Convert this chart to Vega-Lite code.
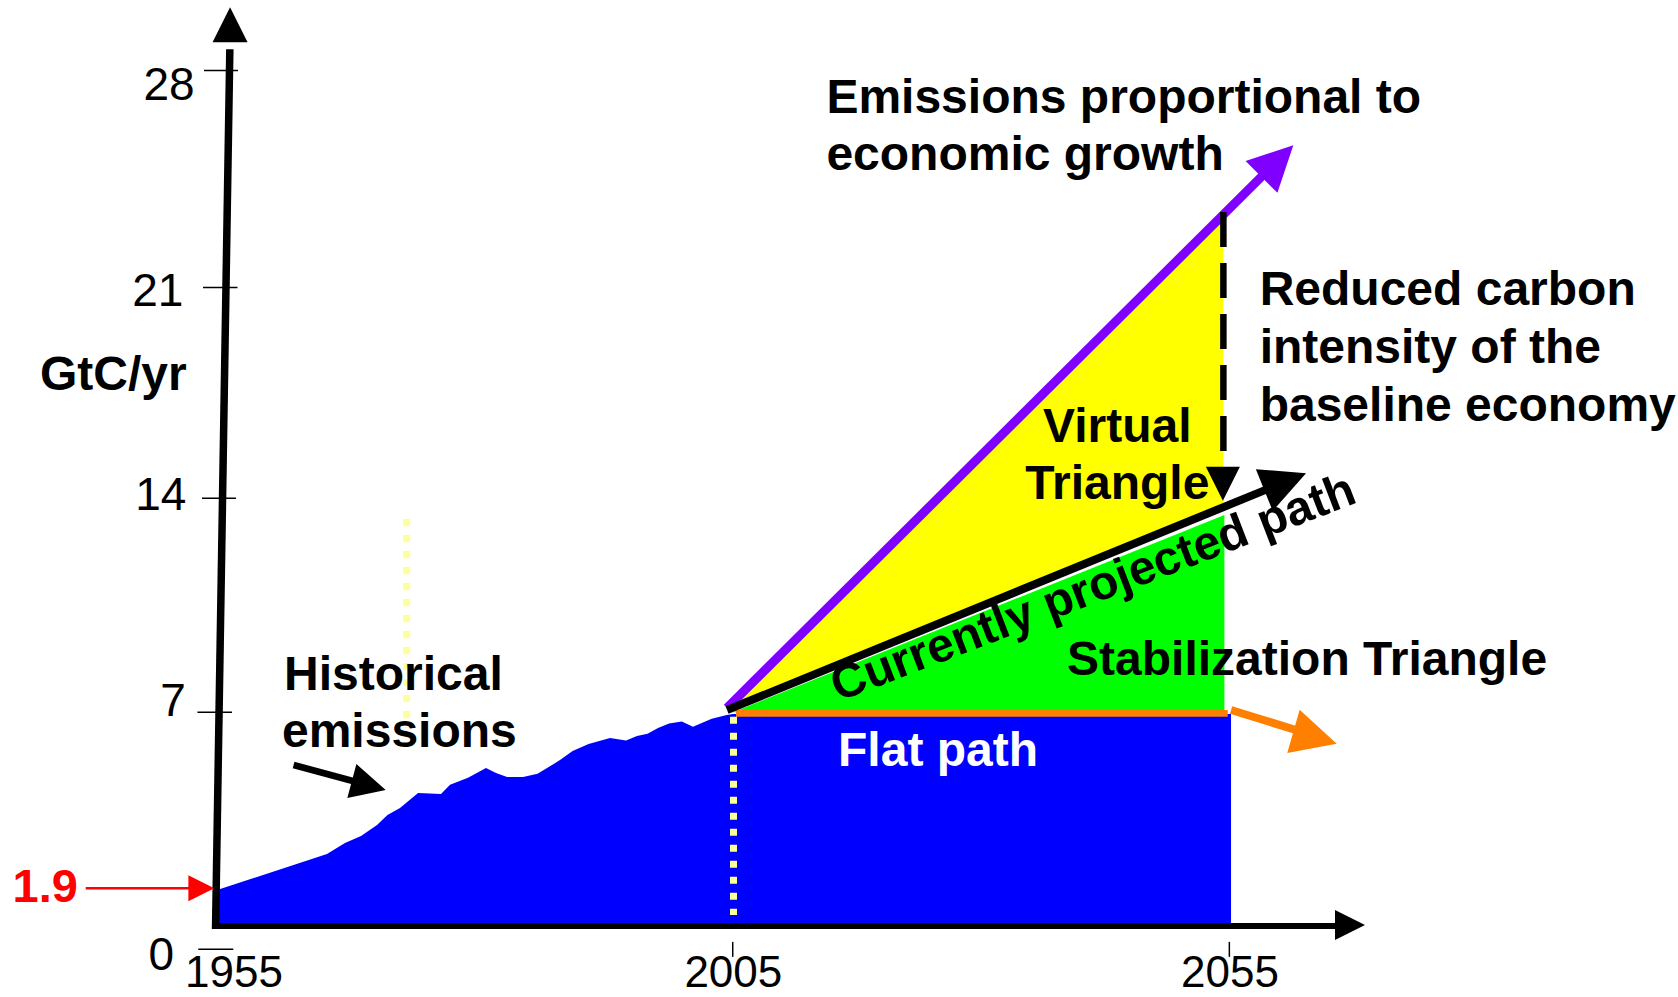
{
  "$schema": "https://vega.github.io/schema/vega-lite/v6.json",
  "width": 1678,
  "height": 997,
  "autosize": {"type": "none"},
  "padding": 0,
  "background": "#ffffff",
  "config": {"view": {"stroke": null}, "text": {"font": "Liberation Sans"}},
  "encoding": {
    "x": {"field": "x", "type": "quantitative", "scale": {"domain": [1931.23, 2100.17], "nice": false, "zero": false}, "axis": null},
    "y": {"field": "y", "type": "quantitative", "scale": {"domain": [-2.324, 30.311], "nice": false, "zero": false}, "axis": null}
  },
  "layer": [
    {
      "data": {"values": [
        {"x": 1952.93, "y": 1.16}, {"x": 1964.15, "y": 2.36}, {"x": 1965.96, "y": 2.72}, {"x": 1967.58, "y": 2.95},
        {"x": 1969.19, "y": 3.31}, {"x": 1970.24, "y": 3.63}, {"x": 1971.5, "y": 3.86}, {"x": 1973.32, "y": 4.35},
        {"x": 1975.63, "y": 4.32}, {"x": 1976.54, "y": 4.62}, {"x": 1978.35, "y": 4.85}, {"x": 1980.16, "y": 5.17},
        {"x": 1981.17, "y": 5.01}, {"x": 1982.28, "y": 4.88}, {"x": 1983.89, "y": 4.88}, {"x": 1985.35, "y": 4.98},
        {"x": 1987.61, "y": 5.43}, {"x": 1988.88, "y": 5.73}, {"x": 1990.49, "y": 5.96}, {"x": 1992.65, "y": 6.15},
        {"x": 1994.26, "y": 6.07}, {"x": 1995.36, "y": 6.22}, {"x": 1996.42, "y": 6.29}, {"x": 1997.48, "y": 6.48},
        {"x": 1998.59, "y": 6.63}, {"x": 1999.87, "y": 6.69}, {"x": 2001.0, "y": 6.52}, {"x": 2002.89, "y": 6.78},
        {"x": 2004.4, "y": 6.91}, {"x": 2005.03, "y": 6.94}, {"x": 2055.17, "y": 6.94}
      ]},
      "mark": {"type": "area", "color": "#0000FF", "opacity": 1},
      "encoding": {"y2": {"datum": 0}}
    },
    {
      "data": {"values": [{"x": 2004.45, "y": 7.07, "y2": 7.07}, {"x": 2054.4, "y": 23.3, "y2": 13.78}]},
      "mark": {"type": "area", "color": "#FFFF00", "opacity": 1},
      "encoding": {"y2": {"field": "y2"}}
    },
    {
      "data": {"values": [{"x": 2005.03, "y": 7.0, "y2": 7.0}, {"x": 2054.5, "y": 13.45, "y2": 6.95}]},
      "mark": {"type": "area", "color": "#00FF00", "opacity": 1},
      "encoding": {"y2": {"field": "y2"}}
    },
    {
      "data": {"values": [{"x": 2005.33, "y": 6.96, "x2": 2054.84, "y2": 6.96}]},
      "mark": {"type": "rule", "color": "#FF8000", "strokeWidth": 6.7},
      "encoding": {"x2": {"field": "x2"}, "y2": {"field": "y2"}}
    },
    {
      "data": {"values": [{"x": 1972.17, "y": 13.32, "x2": 1972.17, "y2": 6.48}, {"x": 2005.08, "y": 6.85, "x2": 2005.08, "y2": 0.36}]},
      "mark": {"type": "rule", "color": "#FFFF99", "strokeWidth": 7, "strokeDash": [7, 9]},
      "encoding": {"x2": {"field": "x2"}, "y2": {"field": "y2"}}
    },
    {
      "data": {"values": [{"x": 2004.43, "y": 7.14, "x2": 2060.38, "y2": 25.22}]},
      "mark": {"type": "rule", "color": "#7F00FF", "strokeWidth": 9},
      "encoding": {"x2": {"field": "x2"}, "y2": {"field": "y2"}}
    },
    {
      "data": {"values": [{"x": 2061.44, "y": 25.56}]},
      "mark": {"type": "point", "shape": "M0,0L-2,-1L-2,1Z", "filled": true, "opacity": 1, "strokeWidth": 0, "color": "#7F00FF"},
      "encoding": {"size": {"value": 2025}, "angle": {"value": -45}}
    },
    {
      "data": {"values": [{"x": 2004.43, "y": 7.07, "x2": 2061.32, "y2": 14.63}]},
      "mark": {"type": "rule", "color": "#000000", "strokeWidth": 8},
      "encoding": {"x2": {"field": "x2"}, "y2": {"field": "y2"}}
    },
    {
      "data": {"values": [{"x": 2062.72, "y": 14.82}]},
      "mark": {"type": "point", "shape": "M0,0L-2,-1L-2,1Z", "filled": true, "opacity": 1, "strokeWidth": 0, "color": "#000000"},
      "encoding": {"size": {"value": 2025}, "angle": {"value": -22}}
    },
    {
      "data": {"values": [{"x": 2054.4, "y": 23.37, "x2": 2054.4, "y2": 14.9}]},
      "mark": {"type": "rule", "color": "#000000", "strokeWidth": 6.5, "strokeDash": [35, 16]},
      "encoding": {"x2": {"field": "x2"}, "y2": {"field": "y2"}}
    },
    {
      "data": {"values": [{"x": 2054.35, "y": 13.92}]},
      "mark": {"type": "point", "shape": "M0,0L-2,-1L-2,1Z", "filled": true, "opacity": 1, "strokeWidth": 0, "color": "#000000"},
      "encoding": {"size": {"value": 1156}, "angle": {"value": 90}}
    },
    {
      "data": {"values": [{"x": 2055.17, "y": 7.07, "x2": 2064.36, "y2": 6.147}]},
      "mark": {"type": "rule", "color": "#FF8000", "strokeWidth": 8},
      "encoding": {"x2": {"field": "x2"}, "y2": {"field": "y2"}}
    },
    {
      "data": {"values": [{"x": 2065.81, "y": 5.965}]},
      "mark": {"type": "point", "shape": "M0,0L-2,-1L-2,1Z", "filled": true, "opacity": 1, "strokeWidth": 0, "color": "#FF8000"},
      "encoding": {"size": {"value": 2025}, "angle": {"value": 16}}
    },
    {
      "data": {"values": [{"x": 1952.93, "y": -0.1, "x2": 1954.37, "y2": 28.7}]},
      "mark": {"type": "rule", "color": "#000000", "strokeWidth": 7.5},
      "encoding": {"x2": {"field": "x2"}, "y2": {"field": "y2"}}
    },
    {
      "data": {"values": [{"x": 1952.6, "y": 0, "x2": 2066.5, "y2": 0}]},
      "mark": {"type": "rule", "color": "#000000", "strokeWidth": 6},
      "encoding": {"x2": {"field": "x2"}, "y2": {"field": "y2"}}
    },
    {
      "data": {"values": [{"x": 1954.39, "y": 30.07}]},
      "mark": {"type": "point", "shape": "M0,0L-2,-1L-2,1Z", "filled": true, "opacity": 1, "strokeWidth": 0, "color": "#000000"},
      "encoding": {"size": {"value": 1225}, "angle": {"value": -90}}
    },
    {
      "data": {"values": [{"x": 2068.66, "y": 0.03}]},
      "mark": {"type": "point", "shape": "M0,0L-2,-1L-2,1Z", "filled": true, "opacity": 1, "strokeWidth": 0, "color": "#000000"},
      "encoding": {"size": {"value": 900}, "angle": {"value": 0}}
    },
    {
      "data": {"values": [
        {"x": 1951.77, "x2": 1955.19, "y": 28, "y2": 28},
        {"x": 1951.67, "x2": 1955.14, "y": 20.9, "y2": 20.9},
        {"x": 1951.57, "x2": 1954.99, "y": 14, "y2": 14},
        {"x": 1951.11, "x2": 1954.59, "y": 7, "y2": 7},
        {"x": 1951.19, "x2": 1954.72, "y": -0.76, "y2": -0.76},
        {"x": 2005.0, "x2": 2005.0, "y": -0.52, "y2": -1.01},
        {"x": 2055.0, "x2": 2055.0, "y": -0.52, "y2": -1.01}
      ]},
      "mark": {"type": "rule", "color": "#000000", "strokeWidth": 1.5},
      "encoding": {"x2": {"field": "x2"}, "y2": {"field": "y2"}}
    },
    {
      "data": {"values": [{"x": 1939.86, "y": 1.234, "x2": 1951.5, "y2": 1.234}]},
      "mark": {"type": "rule", "color": "#FF0000", "strokeWidth": 2.5},
      "encoding": {"x2": {"field": "x2"}, "y2": {"field": "y2"}}
    },
    {
      "data": {"values": [{"x": 1952.81, "y": 1.234}]},
      "mark": {"type": "point", "shape": "M0,0L-2,-1L-2,1Z", "filled": true, "opacity": 1, "strokeWidth": 0, "color": "#FF0000"},
      "encoding": {"size": {"value": 676}, "angle": {"value": 0}}
    },
    {
      "data": {"values": [{"x": 1960.79, "y": 5.27, "x2": 1968.99, "y2": 4.55}]},
      "mark": {"type": "rule", "color": "#000000", "strokeWidth": 6.7},
      "encoding": {"x2": {"field": "x2"}, "y2": {"field": "y2"}}
    },
    {
      "data": {"values": [{"x": 1970.06, "y": 4.45}]},
      "mark": {"type": "point", "shape": "M0,0L-2,-1L-2,1Z", "filled": true, "opacity": 1, "strokeWidth": 0, "color": "#000000"},
      "encoding": {"size": {"value": 1225}, "angle": {"value": 15}}
    },
    {
      "data": {"values": [
        {"x": 2014.43, "y": 26.6, "text": "Emissions proportional to"},
        {"x": 2014.43, "y": 24.74, "text": "economic growth"},
        {"x": 2058.05, "y": 20.33, "text": "Reduced carbon"},
        {"x": 2058.05, "y": 18.44, "text": "intensity of the"},
        {"x": 2058.05, "y": 16.54, "text": "baseline economy"},
        {"x": 1959.82, "y": 7.725, "text": "Historical"},
        {"x": 1959.62, "y": 5.86, "text": "emissions"},
        {"x": 2038.66, "y": 8.216, "text": "Stabilization Triangle"},
        {"x": 1935.26, "y": 17.54, "text": "GtC/yr"}
      ]},
      "mark": {"type": "text", "align": "left", "baseline": "alphabetic", "fontSize": 48, "fontWeight": "bold", "color": "#000000"},
      "encoding": {"text": {"field": "text"}}
    },
    {
      "data": {"values": [
        {"x": 2043.72, "y": 15.84, "text": "Virtual"},
        {"x": 2043.72, "y": 13.99, "text": "Triangle"}
      ]},
      "mark": {"type": "text", "align": "center", "baseline": "alphabetic", "fontSize": 48, "fontWeight": "bold", "color": "#000000"},
      "encoding": {"text": {"field": "text"}}
    },
    {
      "data": {"values": [{"x": 2025.67, "y": 5.24, "text": "Flat path"}]},
      "mark": {"type": "text", "align": "center", "baseline": "alphabetic", "fontSize": 48, "fontWeight": "bold", "color": "#FFFFFF"},
      "encoding": {"text": {"field": "text"}}
    },
    {
      "data": {"values": [{"x": 2041.83, "y": 10.61, "text": "Currently projected path"}]},
      "mark": {"type": "text", "align": "center", "baseline": "alphabetic", "fontSize": 48, "fontWeight": "bold", "color": "#000000", "angle": -21},
      "encoding": {"text": {"field": "text"}}
    },
    {
      "data": {"values": [{"x": 1932.49, "y": 0.795, "text": "1.9"}]},
      "mark": {"type": "text", "align": "left", "baseline": "alphabetic", "fontSize": 47, "fontWeight": "bold", "color": "#FF0000"},
      "encoding": {"text": {"field": "text"}}
    },
    {
      "data": {"values": [
        {"x": 1950.82, "y": 27.04, "text": "28"},
        {"x": 1949.7, "y": 20.29, "text": "21"},
        {"x": 1950.0, "y": 13.62, "text": "14"},
        {"x": 1949.93, "y": 6.87, "text": "7"},
        {"x": 1948.77, "y": -1.44, "text": "0"}
      ]},
      "mark": {"type": "text", "align": "right", "baseline": "alphabetic", "fontSize": 46, "color": "#000000"},
      "encoding": {"text": {"field": "text"}}
    },
    {
      "data": {"values": [
        {"x": 1954.79, "y": -1.99, "text": "1955"},
        {"x": 2005.06, "y": -1.99, "text": "2005"},
        {"x": 2055.07, "y": -1.99, "text": "2055"}
      ]},
      "mark": {"type": "text", "align": "center", "baseline": "alphabetic", "fontSize": 44, "color": "#000000"},
      "encoding": {"text": {"field": "text"}}
    }
  ]
}
